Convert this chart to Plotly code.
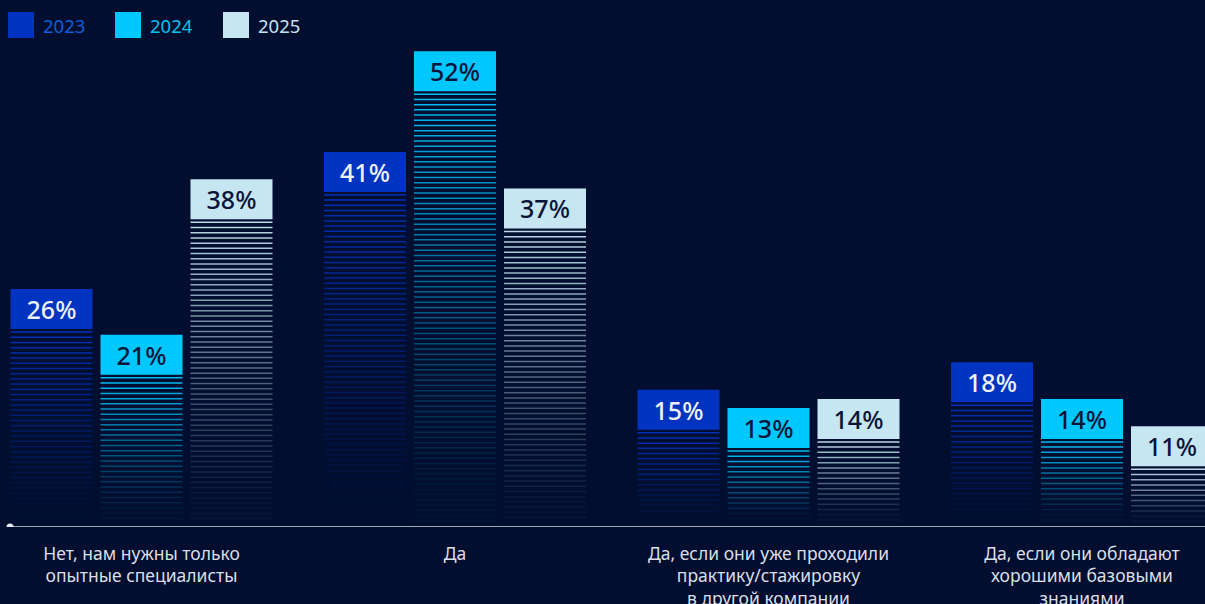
import plotly.graph_objects as go

# --- data -------------------------------------------------------------
categories = [
    "Нет, нам нужны только<br>опытные специалисты",
    "Да",
    "Да, если они уже проходили<br>практику/стажировку<br>в другой компании",
    "Да, если они обладают<br>хорошими базовыми<br>знаниями",
]
years = ["2023", "2024", "2025"]
values_2023 = [26, 41, 15, 18]
values_2024 = [21, 52, 13, 14]
values_2025 = [38, 37, 14, 11]
series = {"2023": values_2023, "2024": values_2024, "2025": values_2025}

# --- styling ----------------------------------------------------------
BG = "#010e2f"
bar_colors = {"2023": "#0033c0", "2024": "#00c8ff", "2025": "#c6e6f2"}
value_colors = {"2023": "#eef1f8", "2024": "#0a1438", "2025": "#0a1438"}
legend_colors = {"2023": "#0b5ed8", "2024": "#00c2ee", "2025": "#c8e2ee"}
FONT = "Noto Sans"

W, H = 1205, 604
AXIS_PX = 527              # pixel row of the baseline
Y_TOP = 57.6               # value shown at the top edge of the plot area
PX_PER_UNIT = AXIS_PX / Y_TOP
GROUP_PX = 313.5           # pixels between category centres
FIRST_PX = 141.5           # pixel x of first category centre

def px_x(p):
    return p / GROUP_PX

STEP = px_x(90)            # distance between bars inside a group
BAR_W = px_x(82)
BOX_H = 40 / PX_PER_UNIT   # height of the solid label cap
GAP = 3 / PX_PER_UNIT      # gap between cap and striped body
STRIPE = 5.2 / PX_PER_UNIT # stripe pitch
BOTTOM = 5 / PX_PER_UNIT

x_range = [-FIRST_PX / GROUP_PX, (W - FIRST_PX) / GROUP_PX]

fig = go.Figure()
shapes = []

for k, yr in enumerate(years):
    vals = series[yr]
    xs = [i + (k - 1) * STEP for i in range(len(categories))]
    # solid cap with the value label
    fig.add_trace(go.Bar(
        x=xs,
        y=[BOX_H] * len(vals),
        base=[v - BOX_H for v in vals],
        width=BAR_W,
        marker=dict(color=bar_colors[yr], line=dict(width=0)),
        text=[f"{v}%" for v in vals],
        textposition="inside",
        insidetextanchor="middle",
        textangle=0,
        constraintext="none",
        textfont=dict(family=FONT, size=25, color=value_colors[yr], weight=500),
        hoverinfo="skip",
        showlegend=False,
    ))
    # striped body fading toward the baseline
    for x, v in zip(xs, vals):
        top = v - BOX_H - GAP
        span = top - BOTTOM
        y = top
        while y >= BOTTOM:
            frac = (top - y) / span if span > 0 else 0
            op = max(0.04, 0.95 * (1 - frac) ** 1.2)
            shapes.append(dict(
                type="line", xref="x", yref="y",
                x0=x - BAR_W / 2, x1=x + BAR_W / 2, y0=y, y1=y,
                line=dict(color=bar_colors[yr], width=1.5),
                opacity=op, layer="above",
            ))
            y -= STRIPE

# baseline with a dot at its left end
shapes.append(dict(type="line", xref="paper", yref="y",
                   x0=10 / W, x1=1, y0=0, y1=0,
                   line=dict(color="#d3d8e3", width=1.6)))
shapes.append(dict(type="circle", xref="paper", yref="y",
                   xsizemode="pixel", ysizemode="pixel",
                   xanchor=10 / W, yanchor=0,
                   x0=-3.5, x1=3.5, y0=-3.5, y1=3.5,
                   fillcolor="#e6eaf2", line=dict(width=0)))

# legend: coloured squares with year labels
annotations = []
legend_px = {"2023": 8, "2024": 115, "2025": 223}
for yr in years:
    x0 = legend_px[yr]
    shapes.append(dict(type="rect", xref="paper", yref="paper",
                       x0=x0 / W, x1=(x0 + 26) / W,
                       y0=1 - 38 / AXIS_PX, y1=1 - 12 / AXIS_PX,
                       fillcolor=bar_colors[yr], line=dict(width=0)))
    annotations.append(dict(xref="paper", yref="paper",
                            x=(x0 + 33) / W, y=1 - 25 / AXIS_PX,
                            xanchor="left", yanchor="middle",
                            text=yr, showarrow=False,
                            font=dict(family=FONT, size=18.5, color=legend_colors[yr])))

fig.update_layout(
    width=W, height=H,
    margin=dict(l=0, r=0, t=0, b=H - AXIS_PX, pad=0),
    paper_bgcolor=BG, plot_bgcolor=BG,
    barmode="overlay",
    shapes=shapes,
    annotations=annotations,
    showlegend=False,
    xaxis=dict(range=x_range, tickvals=list(range(len(categories))),
               ticktext=categories, showgrid=False, zeroline=False,
               showline=False, ticks="", automargin=False,
               ticklabelstandoff=14,
               tickfont=dict(family=FONT, size=17.5, color="#dadee8")),
    yaxis=dict(range=[0, Y_TOP], visible=False, fixedrange=True),
)

fig.write_html("out.html")
